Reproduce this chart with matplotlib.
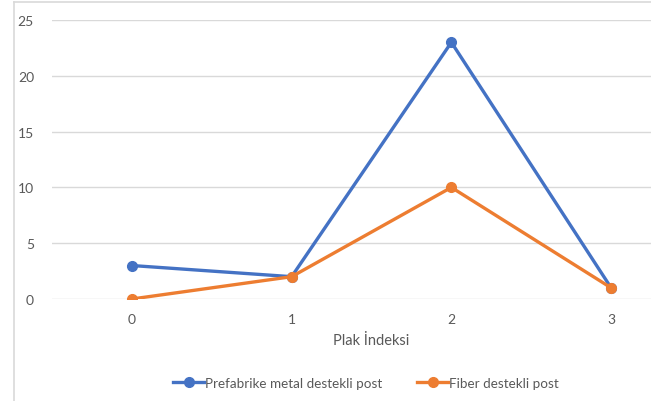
import matplotlib.pyplot as plt
from matplotlib.lines import Line2D

plak_indeksi = [0, 1, 2, 3]
prefabrike = [3, 2, 23, 1]
fiber = [0, 2, 10, 1]
etiket1 = "Prefabrike metal destekli post"
etiket2 = "Fiber destekli post"

plt.rcParams['font.family'] = ['Lato', 'DejaVu Sans']

W, H = 651, 402
fig = plt.figure(figsize=(W / 100, H / 100), dpi=100)

# eksen alani (Excel grafiginden kirpilmis gorunum)
ax = fig.add_axes([52 / W, 102 / H, 639 / W, 279 / H])
ax.plot(plak_indeksi, prefabrike, color='#4472C4', lw=2.4, marker='o', ms=7, label=etiket1)
ax.plot(plak_indeksi, fiber, color='#ED7D31', lw=2.4, marker='o', ms=7, label=etiket2)

ax.set_xlim(-0.5, 3.5)
ax.set_ylim(0, 25)
ax.set_yticks([0, 5, 10, 15, 20, 25])
ax.set_xticks(plak_indeksi)
ax.grid(axis='y', color='#d9d9d9', lw=1)
ax.set_axisbelow(True)
for s in ax.spines.values():
    s.set_visible(False)
ax.tick_params(length=0, colors='#595959', labelsize=10)
ax.tick_params(axis='y', pad=13)
ax.tick_params(axis='x', pad=10)
ax.set_xlabel("Plak İndeksi", color='#595959', fontsize=10.5, labelpad=6)

tutamac = [Line2D([], [], color='#4472C4', lw=2.4, marker='o', ms=7),
           Line2D([], [], color='#ED7D31', lw=2.4, marker='o', ms=7)]
fig.legend(tutamac, [etiket1, etiket2], loc='center', bbox_to_anchor=(366 / W, 1 - 384 / H),
           ncol=2, frameon=False, fontsize=9.7, labelcolor='#595959', handlelength=2.3,
           handletextpad=0.05, columnspacing=2.6)

# grafik cercevesi
fig.add_artist(Line2D([14 / W, 14 / W], [0, 1 - 3 / H], color='#d9d9d9', lw=1.2))
fig.add_artist(Line2D([14 / W, 1], [1 - 3 / H, 1 - 3 / H], color='#d9d9d9', lw=1.2))

fig.savefig("out.png", dpi=100)
